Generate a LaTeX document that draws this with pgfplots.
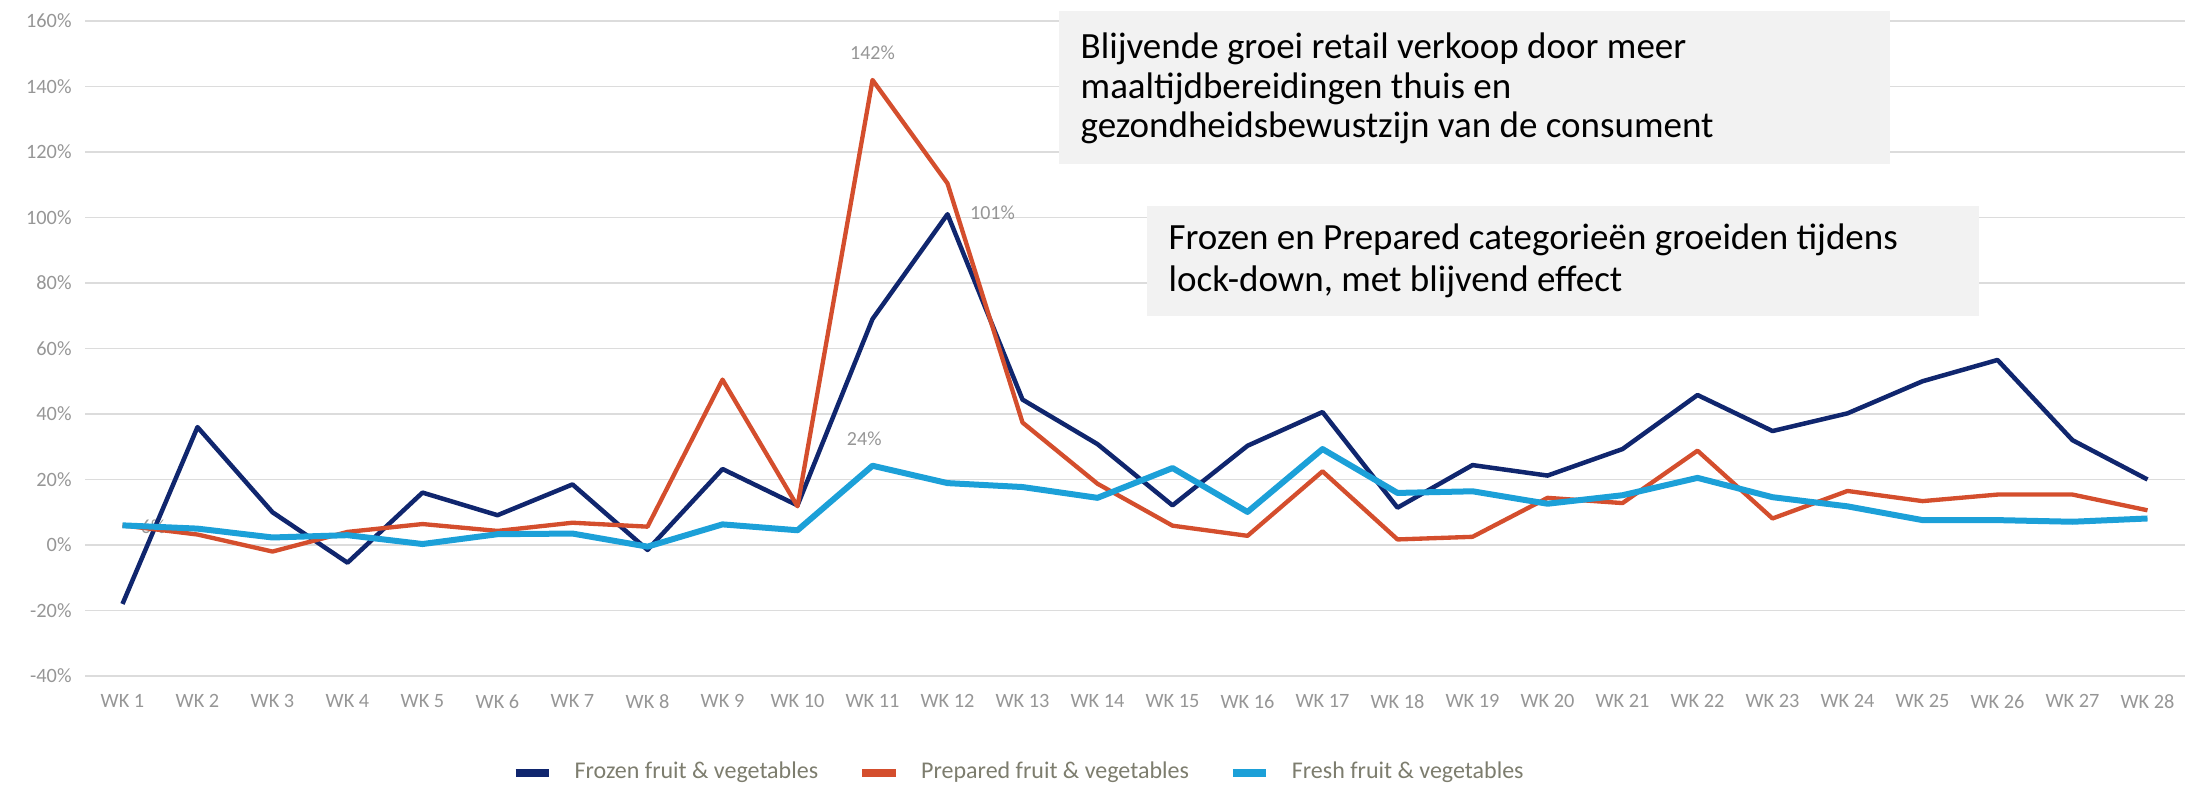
\documentclass[border=0pt]{standalone}
\usepackage{pgfplots}
\pgfplotsset{compat=1.18}
\usepackage{fontspec}
\setmainfont{Carlito}
\definecolor{frozen}{RGB}{16,38,110}
\definecolor{prepared}{RGB}{212,78,45}
\definecolor{fresh}{RGB}{28,160,216}
\definecolor{gridc}{RGB}{220,220,220}
\definecolor{tickc}{RGB}{150,150,150}
\definecolor{legc}{RGB}{125,125,110}
\definecolor{boxc}{RGB}{242,242,242}
\begin{document}
\begin{tikzpicture}
\useasboundingbox (0,0) rectangle (660pt,236.1pt);
\begin{axis}[
 at={(25.5pt,33.3pt)}, anchor=south west,
 scale only axis, width=630pt, height=196.5pt,
 xmin=0.5, xmax=28.5, ymin=-40, ymax=160,
 xtick={1,...,28},
 xticklabels={WK 1,WK 2,WK 3,WK 4,WK 5,WK 6,WK 7,WK 8,WK 9,WK 10,WK 11,WK 12,WK 13,WK 14,WK 15,WK 16,WK 17,WK 18,WK 19,WK 20,WK 21,WK 22,WK 23,WK 24,WK 25,WK 26,WK 27,WK 28},
 ytick={-40,-20,...,160},
 yticklabels={-40\%,-20\%,0\%,20\%,40\%,60\%,80\%,100\%,120\%,140\%,160\%},
 ymajorgrids, major grid style={gridc, line width=0.5pt},
 axis line style={draw=none},
 major tick length=0pt,
 tick label style={font=\fontsize{6.1}{7}\selectfont, text=tickc},
 yticklabel style={xshift=-0.5pt},
 xticklabel style={yshift=-2pt},
 legend columns=3,
 legend style={draw=none, fill=none, at={(0.4457,-0.148)}, anchor=center,
   font=\fontsize{7.2}{8.5}\selectfont, text=legc,
   /tikz/every odd column/.append style={column sep=4.5pt},
   /tikz/every even column/.append style={column sep=10pt}},
 legend image code/.code={\draw[#1, line width=2.4pt] (0pt,0pt) -- (10pt,0pt);},
 clip=false,
]
\node[font=\fontsize{6}{7}\selectfont, text=tickc] at (axis cs:1.41,5.5) {6\%};
\addplot[frozen, line width=1.35pt, line join=round] coordinates {
(1,-18) (2,36) (3,10) (4,-5.4) (5,16) (6,9.1) (7,18.5) (8,-1.5) (9,23.2) (10,12.1)
(11,69) (12,101) (13,44.4) (14,30.8) (15,12.1) (16,30.3) (17,40.6) (18,11.4) (19,24.4) (20,21.2)
(21,29.3) (22,45.8) (23,34.8) (24,40.2) (25,50) (26,56.5) (27,32) (28,20)};
\addlegendentry{Frozen fruit \& vegetables}
\addplot[prepared, line width=1.3pt, line join=round] coordinates {
(1,6) (2,3.2) (3,-2) (4,4) (5,6.4) (6,4.3) (7,6.8) (8,5.6) (9,50.5) (10,11.8)
(11,142) (12,110.4) (13,37.4) (14,18.7) (15,5.9) (16,2.8) (17,22.5) (18,1.7) (19,2.5) (20,14.4)
(21,12.8) (22,28.8) (23,8.1) (24,16.5) (25,13.4) (26,15.4) (27,15.4) (28,10.6)};
\addlegendentry{Prepared fruit \& vegetables}
\addplot[fresh, line width=1.8pt, line join=round] coordinates {
(1,6) (2,5) (3,2.3) (4,3) (5,0.3) (6,3.3) (7,3.5) (8,-0.5) (9,6.3) (10,4.5)
(11,24.2) (12,18.9) (13,17.7) (14,14.4) (15,23.5) (16,10.1) (17,29.3) (18,15.9) (19,16.4) (20,12.6)
(21,15.2) (22,20.5) (23,14.6) (24,11.8) (25,7.6) (26,7.6) (27,7.1) (28,8.1)};
\addlegendentry{Fresh fruit \& vegetables}
\node[font=\fontsize{6}{7}\selectfont, text=tickc] at (axis cs:11,150.2) {142\%};
\node[font=\fontsize{6}{7}\selectfont, text=tickc] at (axis cs:12.6,101.4) {101\%};
\node[font=\fontsize{6}{7}\selectfont, text=tickc] at (axis cs:10.89,32.4) {24\%};
\end{axis}
\fill[boxc] (317.7pt,186.9pt) rectangle (567pt,232.8pt);
\node[anchor=west, align=left, font=\fontsize{11.1}{12}\selectfont, inner sep=0pt] at (324pt,209.6pt) {Blijvende groei retail verkoop door meer\\maaltijdbereidingen thuis en\\gezondheidsbewustzijn van de consument};
\fill[boxc] (344.1pt,141.3pt) rectangle (593.7pt,174.3pt);
\node[anchor=west, align=left, font=\fontsize{11.1}{12.6}\selectfont, inner sep=0pt] at (350.4pt,157.8pt) {Frozen en Prepared categorieën groeiden tijdens\\lock-down, met blijvend effect};
\end{tikzpicture}
\end{document}
